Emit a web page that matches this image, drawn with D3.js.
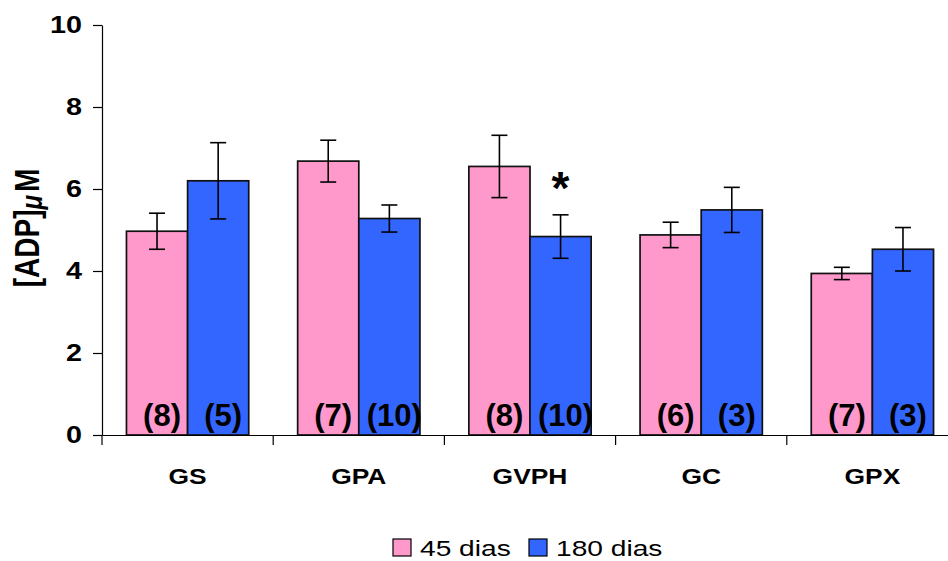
<!DOCTYPE html>
<html>
<head>
<meta charset="utf-8">
<script src="https://cdn.jsdelivr.net/npm/d3@7"></script>
<style>
  body { margin: 0; background: #fff; }
  svg { font-family: "Liberation Sans", Arial, sans-serif; }
  .axis path, .axis line { stroke: #000; stroke-width: 1.2; }
</style>
</head>
<body>
<svg id="chart" width="948" height="561"></svg>
<script>
// data
const categories = ["GS", "GPA", "GVPH", "GC", "GPX"];
const seriesNames = ["45 dias", "180 dias"];
const seriesColors = ["#FF99CC", "#3366FF"];
const means45 = [4.97, 6.68, 6.55, 4.88, 3.94];
const means180 = [6.20, 5.28, 4.84, 5.49, 4.53];
const err45 = [0.44, 0.51, 0.76, 0.31, 0.15];
const err180 = [0.93, 0.33, 0.53, 0.55, 0.53];
const n45 = ["(8)", "(7)", "(8)", "(6)", "(7)"];
const n180 = ["(5)", "(10)", "(10)", "(3)", "(3)"];
const yTicks = [0, 2, 4, 6, 8, 10];
const significant180 = [false, false, true, false, false];

const width = 948, height = 561;
const margin = {left: 102, top: 25, bottom: 126, right: -10};
const stretchX = 1.25; // the original picture is a bit wider than tall

// widen a text horizontally around its own x
const stretch = (sel, k) => sel.each(function() {
  const t = d3.select(this);
  const xv = +t.attr("x") || 0;
  t.attr("transform", "translate(" + xv + ",0) scale(" + k + ",1) translate(" + (-xv) + ",0)");
});

const svg = d3.select("#chart");

const x = d3.scaleBand()
  .domain(categories)
  .range([margin.left, width - margin.right])
  .paddingInner(0)
  .paddingOuter(0);

const xSeries = d3.scaleBand()
  .domain([0, 1])
  .range([0, x.bandwidth()])
  .paddingInner(0)
  .paddingOuter(0.4);

const y = d3.scaleLinear()
  .domain([0, 10])
  .range([height - margin.bottom, margin.top]);

// bars table built from the arrays
const rows = categories.map((c, i) => ({
  cat: c,
  vals: [
    {s: 0, v: means45[i], e: err45[i], n: n45[i], star: false},
    {s: 1, v: means180[i], e: err180[i], n: n180[i], star: significant180[i]}
  ]
}));

const groups = svg.selectAll(".grp")
  .data(rows)
  .enter().append("g")
  .attr("class", "grp")
  .attr("transform", d => "translate(" + x(d.cat) + ",0)");

groups.selectAll("rect")
  .data(d => d.vals)
  .enter().append("rect")
  .attr("x", d => xSeries(d.s))
  .attr("y", d => y(d.v))
  .attr("width", xSeries.bandwidth())
  .attr("height", d => y(0) - y(d.v))
  .attr("fill", d => seriesColors[d.s])
  .attr("stroke", "#111")
  .attr("stroke-width", 1.7);

// error bars
const capHalf = 8;
const cx = d => xSeries(d.s) + xSeries.bandwidth() / 2;
const eb = groups.selectAll(".err")
  .data(d => d.vals)
  .enter().append("g")
  .attr("class", "err")
  .attr("stroke", "#000")
  .attr("stroke-width", 1.6);
eb.append("line")
  .attr("x1", cx).attr("x2", cx)
  .attr("y1", d => y(d.v + d.e))
  .attr("y2", d => y(d.v - d.e));
eb.append("line")
  .attr("x1", d => cx(d) - capHalf)
  .attr("x2", d => cx(d) + capHalf)
  .attr("y1", d => y(d.v + d.e))
  .attr("y2", d => y(d.v + d.e));
eb.append("line")
  .attr("x1", d => cx(d) - capHalf)
  .attr("x2", d => cx(d) + capHalf)
  .attr("y1", d => y(d.v - d.e))
  .attr("y2", d => y(d.v - d.e));

// n labels at the bottom of each bar
groups.selectAll(".nlab")
  .data(d => d.vals)
  .enter().append("text")
  .attr("class", "nlab")
  .attr("x", d => cx(d) + 5)
  .attr("y", y(0) - 9)
  .attr("text-anchor", "middle")
  .attr("font-size", 31)
  .attr("font-weight", "bold")
  .text(d => d.n);

// significance mark
groups.selectAll(".star")
  .data(d => d.vals.filter(v => v.star))
  .enter().append("text")
  .attr("x", cx)
  .attr("y", d => y(d.v + d.e) - 11)
  .attr("text-anchor", "middle")
  .attr("font-size", 46)
  .attr("font-weight", "bold")
  .text("*");

// y axis
const yAxis = d3.axisLeft(y)
  .tickValues(yTicks)
  .tickSize(9)
  .tickSizeOuter(0)
  .tickPadding(11);
svg.append("g").attr("class", "axis y")
  .attr("transform", "translate(" + margin.left + ",0)")
  .call(yAxis)
  .selectAll("text")
  .attr("font-size", 23)
  .attr("font-weight", "bold")
  .attr("font-family", "Liberation Sans, Arial, sans-serif")
  .attr("fill", "#000")
  .call(stretch, stretchX);

// x axis: line, ticks between groups, labels centered below
const xAxis = d3.axisBottom(x).tickSize(0).tickSizeOuter(0).tickPadding(33);
const gx = svg.append("g").attr("class", "axis x")
  .attr("transform", "translate(0," + y(0) + ")")
  .call(xAxis);
gx.selectAll("text")
  .attr("font-size", 22)
  .attr("font-weight", "bold")
  .attr("font-family", "Liberation Sans, Arial, sans-serif")
  .attr("fill", "#000")
  .call(stretch, 1.2);
gx.selectAll(".sep")
  .data(categories)
  .enter().append("line")
  .attr("class", "sep")
  .attr("x1", d => x(d))
  .attr("x2", d => x(d))
  .attr("y1", 0)
  .attr("y2", 10)
  .attr("stroke", "#000")
  .attr("stroke-width", 1.2);

// y axis title
const yTitle = svg.append("text")
  .attr("transform", "translate(39,228) rotate(-90) scale(1,1.25)")
  .attr("text-anchor", "middle")
  .attr("font-size", 28)
  .attr("font-weight", "bold");
yTitle.append("tspan").text("[ADP]");
yTitle.append("tspan").attr("font-style", "italic").attr("font-size", 24).attr("dy", 2).text("\u03bc");
yTitle.append("tspan").attr("dy", -2).attr("dx", 3).text("M");

// legend
const legendX = [393, 529];
const legend = svg.selectAll(".leg")
  .data(seriesNames)
  .enter().append("g")
  .attr("class", "leg")
  .attr("transform", (d, i) => "translate(" + legendX[i] + ",539)");
legend.append("rect")
  .attr("width", 18)
  .attr("height", 17)
  .attr("fill", (d, i) => seriesColors[i])
  .attr("stroke", "#000")
  .attr("stroke-width", 1.2);
legend.append("text")
  .attr("x", 27)
  .attr("y", 17)
  .attr("font-size", 22)
  .text(d => d)
  .call(stretch, 1.28);
</script>
</body>
</html>
